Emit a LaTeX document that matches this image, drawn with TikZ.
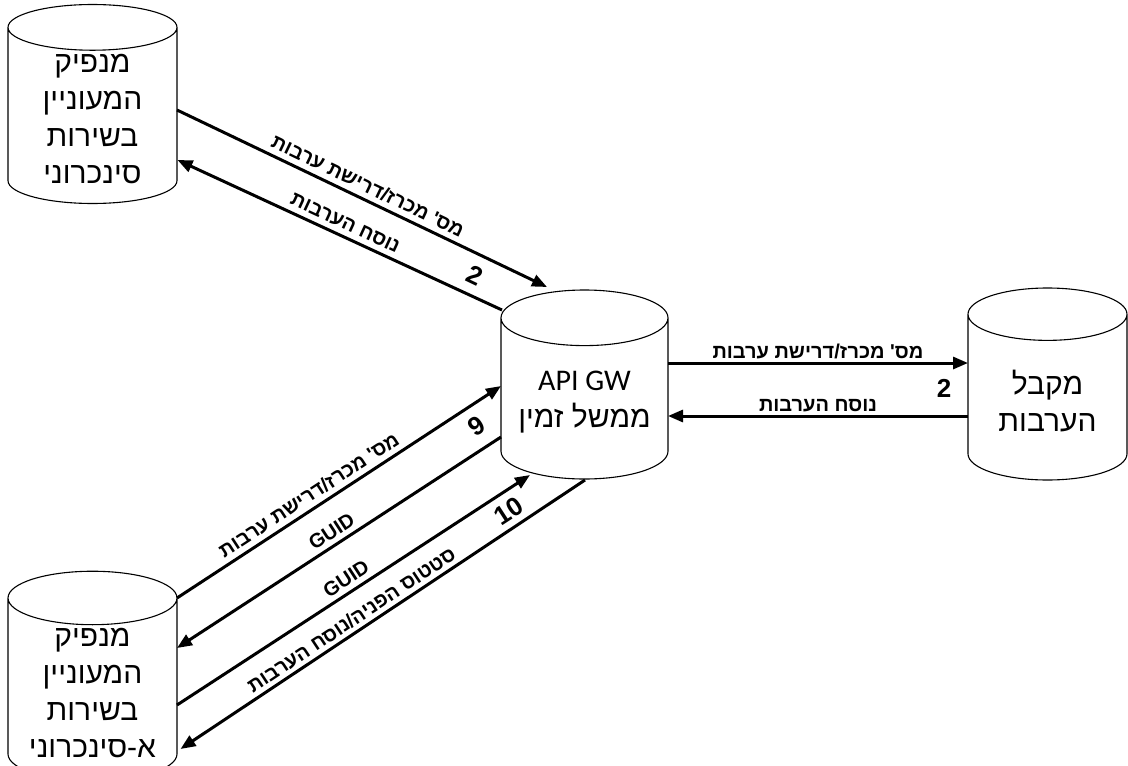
\documentclass[tikz,border=0pt]{standalone}
\usepackage{fontspec}
\setmainfont{Liberation Sans}
\newfontfamily\hebfont[Script=Hebrew]{Liberation Sans}
\newfontfamily\gwfont{Carlito}
\TeXXeTstate=1
\usetikzlibrary{shapes.geometric,arrows.meta,calc}
\newcommand{\heb}[1]{{\hebfont\beginR #1\endR}}

\tikzset{
  store/.style={cylinder, shape border rotate=90, draw, line width=1.1pt, aspect=0.43,
    anchor=shape center, minimum width=169pt, minimum height=186pt, align=center,
    font=\fontsize{30}{37}\selectfont},
  flow/.style={line width=3pt, -{Triangle[length=15pt,width=12pt]}},
  msg/.style={font=\bfseries\fontsize{20}{22}\selectfont, sloped, inner sep=2pt},
  num/.style={font=\bfseries\fontsize{26}{28}\selectfont, sloped, inner sep=1pt},
}

\begin{document}
\begin{tikzpicture}[x=1pt,y=-1pt]
  \useasboundingbox (0,0) rectangle (1128,766);

  \node[store]                       (sync)  at (92.5,104)   {\heb{מנפיק}\\\heb{המעוניין}\\\heb{בשירות}\\\heb{סינכרוני}};
  \node[store, minimum width=167pt, minimum height=189pt, aspect=0.4] (api) at (584.5,384.5) {{\gwfont API GW}\\\heb{ממשל זמין}};
  \node[store, minimum width=159pt, minimum height=192pt, aspect=0.5] (bank) at (1047.5,384) {\heb{מקבל}\\\heb{הערבות}};
  \node[store, aspect=0.4]           (async) at (92.5,676)   {\heb{מנפיק}\\\heb{המעוניין}\\\heb{בשירות}\\\heb{א-סינכרוני}};

  % synchronous issuer
  \draw[flow] ($(sync.shape center)+(84.5,6)$) -- ($(api.shape center)+(-37.5,-97.5)$)
    node[msg, pos=0.5, above=3pt] {\heb{מס' מכרז/דרישת ערבות}}
    node[num, pos=0.83, below=9pt] {2};
  \draw[flow] ($(api.shape center)+(-82.5,-74.5)$) -- ($(sync.shape center)+(85,56)$)
    node[msg, pos=0.5, above=3pt] {\heb{נוסח הערבות}};

  % guarantee receiver
  \draw[flow] ($(api.shape center)+(83.5,-21.5)$) -- ($(bank.shape center)+(-79.5,-21)$)
    node[msg, midway, above=1pt] {\heb{מס' מכרז/דרישת ערבות}}
    node[num, pos=0.92, below=14pt] {2};
  \draw[flow] ($(bank.shape center)+(-79.5,32)$) -- ($(api.shape center)+(83.5,31.5)$)
    node[msg, midway, above=1pt] {\heb{נוסח הערבות}};

  % asynchronous issuer
  \draw[flow] ($(async.shape center)+(84.5,-78)$) -- ($(api.shape center)+(-83.5,1.5)$)
    node[msg, pos=0.43, above=3pt] {\heb{מס' מכרז/דרישת ערבות}}
    node[num, pos=0.89, below=8pt] {9};
  \draw[flow] ($(api.shape center)+(-83.5,52.5)$) -- ($(async.shape center)+(84.5,-28)$)
    node[msg, pos=0.5, above=3pt] {GUID};
  \draw[flow] ($(async.shape center)+(84.5,29)$) -- ($(api.shape center)+(-54.5,90.5)$)
    node[msg, pos=0.5, above=3pt] {GUID}
    node[num, pos=0.91, below=7pt] {10};
  \draw[flow] ($(api.shape center)+(0.5,95.5)$) -- ($(async.shape center)+(88,73)$)
    node[msg, pos=0.56, above=2pt] {\heb{סטטוס הפניה/נוסח הערבות}};
\end{tikzpicture}
\end{document}
